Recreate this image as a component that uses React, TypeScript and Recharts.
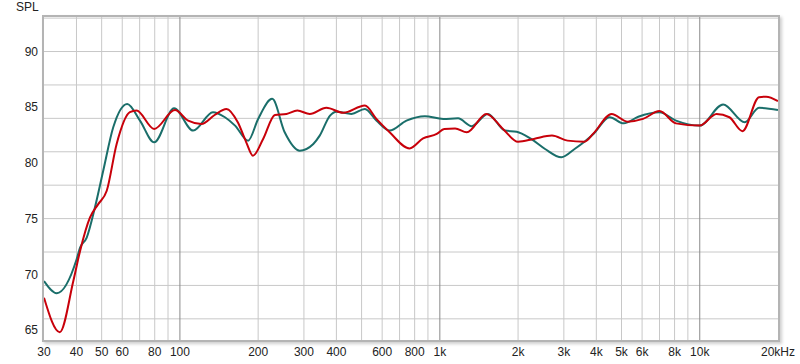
import React from 'react';
import {
  LineChart,
  Line,
  XAxis,
  YAxis,
  CartesianGrid,
  ReferenceLine,
} from 'recharts';

// frequency response, two measurements (Hz / dB SPL)
const tealFreq = [
  30, 33.6, 40, 41.3, 43.8, 47.1, 50.7, 55.4, 62.7, 70.2,
  79.6, 95, 112.5, 134, 149, 163, 183, 200, 226.5, 253,
  289, 326, 345, 378, 400, 457, 515, 570, 641, 744,
  876, 1030, 1175, 1325, 1530, 1780, 1975, 2245, 2540, 2935,
  3300, 3600, 3900, 4500, 5100, 5800, 7000, 8100, 10000, 12300,
  14900, 16900, 20000,
];
const tealSpl = [
  69.4, 68.3, 71.3, 72.4, 73.3, 76.0, 79.3, 83.2, 85.3, 83.8,
  81.85, 84.9, 82.9, 84.55, 84.1, 83.35, 82.0, 83.95, 85.75, 82.75,
  81.1, 81.7, 82.45, 84.25, 84.6, 84.4, 84.85, 83.8, 82.9, 83.8,
  84.2, 83.95, 84.0, 83.3, 84.4, 82.9, 82.8, 82.15, 81.25, 80.5,
  81.25, 81.9, 82.6, 84.1, 83.55, 84.15, 84.55, 83.8, 83.35, 85.25,
  83.65, 84.95, 84.75,
];

const redFreq = [
  30, 34.5, 38.9, 41.3, 45.1, 48.5, 52.3, 57.1, 64.2, 68.1,
  79.6, 95.7, 107.6, 121, 136, 151, 167, 180, 191, 209,
  232, 257, 283, 316, 366, 425, 515, 570, 641, 765,
  862, 973, 1040, 1145, 1270, 1510, 1750, 2000, 2300, 2700,
  3100, 3600, 3900, 4580, 5270, 6050, 7000, 8100, 10000, 11600,
  13000, 14600, 16900, 18000, 20000,
];
const redSpl = [
  67.9, 64.8, 69.4, 72.1, 75.1, 76.3, 77.5, 81.7, 84.55, 84.7,
  83.05, 84.75, 83.8, 83.5, 84.3, 84.85, 83.65, 81.85, 80.65, 82.15,
  84.3, 84.4, 84.7, 84.4, 84.95, 84.5, 85.15, 83.95, 82.75, 81.3,
  82.2, 82.6, 83.05, 83.1, 82.75, 84.4, 83.05, 81.9, 82.15, 82.45,
  82.0, 81.9, 82.65, 84.4, 83.7, 83.95, 84.65, 83.55, 83.35, 84.4,
  84.1, 82.85, 85.9, 85.95, 85.55,
];

const xTicks = [30, 40, 50, 60, 80, 100, 200, 300, 400, 600, 800, 1000, 2000, 3000, 4000, 5000, 6000, 8000, 10000, 20000];
const yTicks = [65, 70, 75, 80, 85, 90];
const xGrid = [
  40, 50, 60, 70, 80, 90,
  200, 300, 400, 500, 600, 700, 800, 900,
  2000, 3000, 4000, 5000, 6000, 7000, 8000, 9000,
];
const decades = [100, 1000, 10000];
const yGrid = [65, 66, 67, 68, 69, 70, 71, 72, 73, 74, 75, 76, 77, 78, 79, 80, 81, 82, 83, 84, 85, 86, 87, 88, 89, 90, 91, 92, 93];

const tealData = tealFreq.map((f, i) => ({ f, spl: tealSpl[i] }));
const redData = redFreq.map((f, i) => ({ f, spl: redSpl[i] }));

const FONT = '"Liberation Sans", Arial, sans-serif';

const formatFreq = (v: number) => {
  if (v === 20000) return '20kHz';
  if (v >= 1000) return `${v / 1000}k`;
  return `${v}`;
};

const App = () => {
  return (
    <div style={{ position: 'absolute', left: 0, top: 0, width: 800, height: 364, background: '#fff', fontFamily: FONT }}>
      <div style={{ position: 'absolute', left: 16, top: 0, fontSize: 12, color: '#222' }}>SPL</div>
      <LineChart
        width={800}
        height={364}
        margin={{ top: 17, right: 22, bottom: 0, left: 0 }}
      >
        <CartesianGrid
          stroke="#c8c8c8"
          strokeWidth={1}
          horizontalValues={yGrid}
          verticalValues={xGrid}
        />
        {decades.map((d) => (
          <ReferenceLine key={d} x={d} stroke="#8a8a8a" strokeWidth={1} />
        ))}
        <XAxis
          dataKey="f"
          type="number"
          scale="log"
          domain={[30, 20000]}
          allowDataOverflow
          ticks={xTicks}
          tickFormatter={formatFreq}
          interval={0}
          height={24}
          tickSize={0}
          tickMargin={7}
          axisLine={false}
          tick={{ fill: '#222', fontSize: 12, fontFamily: FONT }}
        />
        <YAxis
          type="number"
          domain={[64.1, 93.1]}
          allowDataOverflow
          ticks={yTicks}
          width={44}
          tickSize={0}
          tickMargin={6}
          axisLine={false}
          tick={{ fill: '#222', fontSize: 12, fontFamily: FONT }}
        />
        <Line
          data={tealData}
          dataKey="spl"
          type="monotone"
          stroke="#1a6e6a"
          strokeWidth={2}
          dot={false}
          isAnimationActive={false}
        />
        <Line
          data={redData}
          dataKey="spl"
          type="monotone"
          stroke="#c8000a"
          strokeWidth={2}
          dot={false}
          isAnimationActive={false}
        />
      </LineChart>
      <div
        style={{
          position: 'absolute',
          left: 42,
          top: 15,
          width: 734,
          height: 323,
          border: '2px solid #b4b4b4',
          boxShadow: '2px 2px 3px #cfcfcf',
          pointerEvents: 'none',
        }}
      />
    </div>
  );
};

export default App;
